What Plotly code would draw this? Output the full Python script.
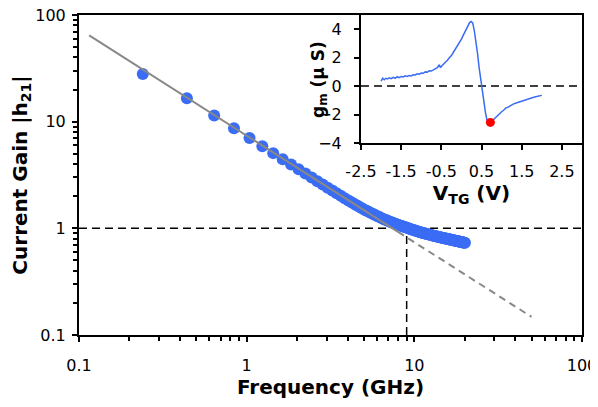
import plotly.graph_objects as go

# main panel: current gain vs frequency
freq = [0.24, 0.44, 0.64, 0.84, 1.04, 1.24, 1.44, 1.64, 1.84, 2.04, 2.24, 2.44, 2.64, 2.84, 3.04,
        3.24, 3.44, 3.64, 3.84, 4.04, 4.24, 4.44, 4.64, 4.84, 5.04, 5.24, 5.44, 5.64, 5.84,
        6.04, 6.24, 6.44, 6.64, 6.84, 7.04, 7.24, 7.44, 7.64, 7.84, 8.04, 8.24, 8.44, 8.64, 8.84,
        9.04, 9.24, 9.44, 9.64, 9.84, 10.04, 10.24, 10.44, 10.64, 10.84, 11.04, 11.24, 11.44,
        11.64, 11.84, 12.04, 12.24, 12.44, 12.64, 12.84, 13.04, 13.24, 13.44, 13.64, 13.84,
        14.04, 14.24, 14.44, 14.64, 14.84, 15.04, 15.24, 15.44, 15.64, 15.84, 16.04, 16.24,
        16.44, 16.64, 16.84, 17.04, 17.24, 17.44, 17.64, 17.84, 18.04, 18.24, 18.44, 18.64,
        18.84, 19.04, 19.24, 19.44, 19.64, 19.84, 20.04]
gain = [28.0, 16.6, 11.4, 8.69, 7.02, 5.89, 5.07, 4.45, 3.97, 3.58, 3.26, 2.99, 2.77, 2.57, 2.40,
        2.258, 2.130, 2.017, 1.915, 1.825, 1.747, 1.676, 1.611, 1.551, 1.496, 1.451, 1.408, 1.368, 1.330,
        1.296, 1.267, 1.239, 1.213, 1.188, 1.165, 1.146, 1.127, 1.109, 1.092, 1.076, 1.062, 1.049, 1.036, 1.023,
        1.012, 1.000, 0.988, 0.977, 0.967, 0.957, 0.946, 0.937, 0.927, 0.919, 0.912, 0.905, 0.899,
        0.893, 0.887, 0.881, 0.875, 0.869, 0.864, 0.858, 0.853, 0.848, 0.843, 0.838, 0.833,
        0.829, 0.825, 0.821, 0.817, 0.813, 0.809, 0.805, 0.802, 0.798, 0.794, 0.791, 0.787,
        0.784, 0.781, 0.777, 0.774, 0.771, 0.768, 0.765, 0.762, 0.759, 0.756, 0.753, 0.750,
        0.747, 0.744, 0.741, 0.739, 0.736, 0.733, 0.731]

# 1/f fit line (solid part, then extrapolated dashed part)
fit_f = [0.115, 8.0]
fit_h = [64.3, 0.925]
ext_f = [8.0, 50.0]
ext_h = [0.925, 0.148]

ft = 9.0  # unity gain frequency marker

# inset: transconductance vs top gate voltage
vtg = [-2.00, -1.96, -1.92, -1.88, -1.84, -1.80, -1.75, -1.70, -1.65, -1.60, -1.55, -1.50,
       -1.45, -1.40, -1.35, -1.30, -1.25, -1.20, -1.15, -1.10, -1.05, -1.00, -0.95, -0.90,
       -0.85, -0.80, -0.75, -0.70, -0.65, -0.60, -0.55, -0.52, -0.48, -0.44, -0.40, -0.35,
       -0.30, -0.25, -0.20, -0.15, -0.10, -0.05, 0.00, 0.05, 0.10, 0.15, 0.20, 0.24, 0.28,
       0.32, 0.36, 0.40, 0.44, 0.48, 0.52, 0.56, 0.60, 0.64, 0.68, 0.72, 0.76, 0.80, 0.85,
       0.90, 0.95, 1.00, 1.05, 1.10, 1.15, 1.20, 1.30, 1.40, 1.50, 1.60, 1.70, 1.80, 1.90, 2.00]
gm = [0.35, 0.55, 0.45, 0.55, 0.50, 0.58, 0.52, 0.62, 0.55, 0.66, 0.60, 0.68,
      0.64, 0.72, 0.68, 0.75, 0.72, 0.80, 0.78, 0.86, 0.84, 0.92, 0.90, 1.00,
      0.98, 1.08, 1.06, 1.16, 1.20, 1.30, 1.50, 1.30, 1.45, 1.55, 1.70, 1.82,
      2.00, 2.15, 2.38, 2.60, 2.80, 3.05, 3.30, 3.60, 3.90, 4.20, 4.45, 4.55, 4.45,
      3.90, 3.20, 2.30, 1.30, 0.40, -0.40, -1.20, -1.90, -2.45, -2.60, -2.55, -2.50, -2.35, -2.20,
      -2.05, -1.95, -1.80, -1.70, -1.55, -1.50, -1.40, -1.25, -1.15, -1.05, -0.95, -0.85, -0.78, -0.72, -0.65]
op_v = [0.72]
op_gm = [-2.55]

blue = '#3A6CF4'
font = 'DejaVu Sans, Verdana, sans-serif'

fig = go.Figure()

fig.add_trace(go.Scatter(x=[0.1, 100], y=[1, 1], mode='lines',
                         line=dict(color='black', width=1.5, dash='8px,5px')))
fig.add_trace(go.Scatter(x=[ft, ft], y=[0.1, 1], mode='lines',
                         line=dict(color='black', width=1.5, dash='8px,5px')))
fig.add_trace(go.Scatter(x=freq, y=gain, mode='markers',
                         marker=dict(color=blue, size=12, line=dict(width=0))))
fig.add_trace(go.Scatter(x=fit_f, y=fit_h, mode='lines', line=dict(color='#888888', width=2)))
fig.add_trace(go.Scatter(x=ext_f, y=ext_h, mode='lines',
                         line=dict(color='#888888', width=2, dash='7px,5px')))

# inset
fig.add_trace(go.Scatter(x=[-2.5, 3.0], y=[0, 0], mode='lines', xaxis='x2', yaxis='y2',
                         line=dict(color='black', width=1.5, dash='8px,5px')))
fig.add_trace(go.Scatter(x=vtg, y=gm, mode='lines', xaxis='x2', yaxis='y2',
                         line=dict(color=blue, width=1.5)))
fig.add_trace(go.Scatter(x=op_v, y=op_gm, mode='markers', xaxis='x2', yaxis='y2',
                         marker=dict(color='red', size=9)))

tick_style = dict(ticks='outside', ticklen=5, tickwidth=1.5, tickcolor='black',
                  showline=True, linecolor='black', linewidth=2,
                  showgrid=False, zeroline=False, automargin=False,
                  ticklabeloverflow='allow', tickfont=dict(size=16))
minor_style = dict(ticks='outside', ticklen=4, tickwidth=1.5, tickcolor='black', dtick='D1', showgrid=False)

# page body has an 8px margin; keep the figure inside the window so nothing scrolls
fig.update_layout(
    width=590, height=391,
    margin=dict(l=71, r=16, t=7, b=64),
    paper_bgcolor='white', plot_bgcolor='white',
    showlegend=False,
    font=dict(family=font, size=17, color='black'),
    xaxis=dict(type='log', range=[-1, 2], domain=[0, 1],
               tickvals=[0.1, 1, 10, 100], ticktext=['0.1', '1', '10', '100'],
               minor=minor_style, mirror=True, ticklabelstandoff=10,
               title=dict(text='<b>Frequency (GHz)</b>', standoff=5), **tick_style),
    yaxis=dict(type='log', range=[-1, 2], domain=[0, 1],
               tickvals=[0.1, 1, 10, 100], ticktext=['0.1', '1', '10', '100'],
               minor=minor_style, mirror=True, ticklabelstandoff=3,
               title=dict(text='<b>Current Gain |h<sub>21</sub>|</b>', standoff=7), **tick_style),
    xaxis2=dict(range=[-2.5, 3.0], domain=[0.5606, 1.0], anchor='y2',
                tickvals=[-2.5, -1.5, -0.5, 0.5, 1.5, 2.5],
                ticktext=['-2.5', '-1.5', '-0.5', '0.5', '1.5', '2.5'],
                ticklabelstandoff=8,
                title=dict(text='<b>V<sub>TG</sub> (V)</b>', standoff=2), **tick_style),
    yaxis2=dict(range=[-4, 5], domain=[0.6, 1.0], anchor='x2',
                tickvals=[-4, -2, 0, 2, 4], ticklabelstandoff=9, **tick_style),
    annotations=[dict(text='<b>g<sub>m</sub> (μ S)</b>', textangle=-90, showarrow=False,
                      xref='paper', yref='paper', x=0.479, y=0.80,
                      xanchor='center', yanchor='middle', font=dict(size=17))],
)

fig.write_html("out.html")
